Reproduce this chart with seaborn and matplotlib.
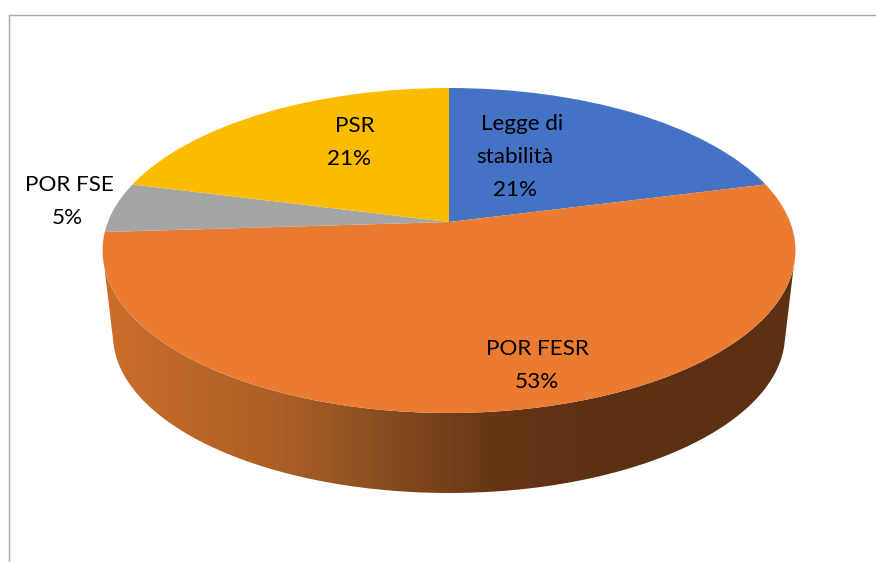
import numpy as np
import matplotlib
matplotlib.use('Agg')
import matplotlib.pyplot as plt
from matplotlib.colors import LinearSegmentedColormap
from matplotlib.patches import PathPatch
from matplotlib.path import Path
from matplotlib.transforms import Transform
import seaborn as sns

labels = ['Legge di\nstabilità', 'POR FESR', 'POR FSE', 'PSR']
values = [21, 53, 5, 21]
colors = ['#4472C4', '#EB7B30', '#A5A5A5', '#FBBC00']

# where each label line sits, in pixels of the reference
label_pos = [
    [(522, 124), (515, 157), (515, 190)],
    [(537, 349), (537, 382)],
    [(69, 185), (67, 218)],
    [(355, 126), (349, 159)],
]

W, H = 876, 562
APEX_X, APEX_Y = 449, 222
K, A, B = 0.1754, 157.5, 341.1

sns.set_theme(style='white')
plt.rcParams['font.family'] = ['Lato', 'DejaVu Sans']


class Tilt(Transform):
    # tilted disc seen in perspective: unit circle -> reference pixels
    input_dims = 2
    output_dims = 2

    def transform_non_affine(self, xy):
        xy = np.asarray(xy, dtype=float)
        s = 1 / (1 + K * xy[:, 1])
        return np.column_stack([APEX_X + B * xy[:, 0] * s, APEX_Y - A * xy[:, 1] * s])


fig = plt.figure(figsize=(W / 100, H / 100), dpi=100)
ax = fig.add_axes([8.5 / W, 0, 1 - 8.5 / W, 1 - 14.5 / H])

wedges, _ = ax.pie(values, colors=colors, startangle=90, counterclock=False, radius=1)
ax.set_aspect('auto')
ax.set_frame_on(True)
ax.set_xticks([])
ax.set_yticks([])
sns.despine(ax=ax, top=False, right=True, left=False, bottom=True)
for side in ['top', 'left']:
    ax.spines[side].set_color('#A6A6A6')
    ax.spines[side].set_linewidth(1.0)

tilt = Tilt() + ax.transData
for w in wedges:
    w.set_transform(tilt)
    w.set_edgecolor('none')
    w.set_zorder(3)

# side wall of the disc, between top rim and bottom rim
t1 = np.radians(np.linspace(6, 174, 120))
t2 = np.radians(np.linspace(176, 4, 120))
top_rim = np.column_stack([449 + 346.5 * np.cos(t1), 250.5 + 162.5 * np.sin(t1)])
low_rim = np.column_stack([449 + 336 * np.cos(t2), 335 + 158 * np.sin(t2)])
wall = np.vstack([top_rim, low_rim, top_rim[:1]])

wall_cmap = LinearSegmentedColormap.from_list('wall', [
    (0.0, '#CC6E2B'), (0.36, '#AC5F26'), (0.55, '#8A4F21'), (0.8, '#663515'), (1.0, '#5C3012')])
grad = np.linspace(0, 1, 500).reshape(1, -1)
img = ax.imshow(np.hstack([grad, np.ones((1, 200))]), cmap=wall_cmap, aspect='auto',
                extent=(100, 800, 500, 250), zorder=1, vmin=0, vmax=1)
img.set_clip_path(PathPatch(Path(wall), transform=ax.transData))
ax.set_xlim(8.5, W)
ax.set_ylim(H, 14.5)

for name, val, pos in zip(labels, values, label_pos):
    lines = name.split('\n') + ['%d%%' % val]
    for line, (x, y) in zip(lines, pos):
        ax.text(x, y, line, ha='center', va='center', fontsize=16.2, color='black', zorder=5)

fig.savefig('out.png', dpi=100, facecolor='white')
